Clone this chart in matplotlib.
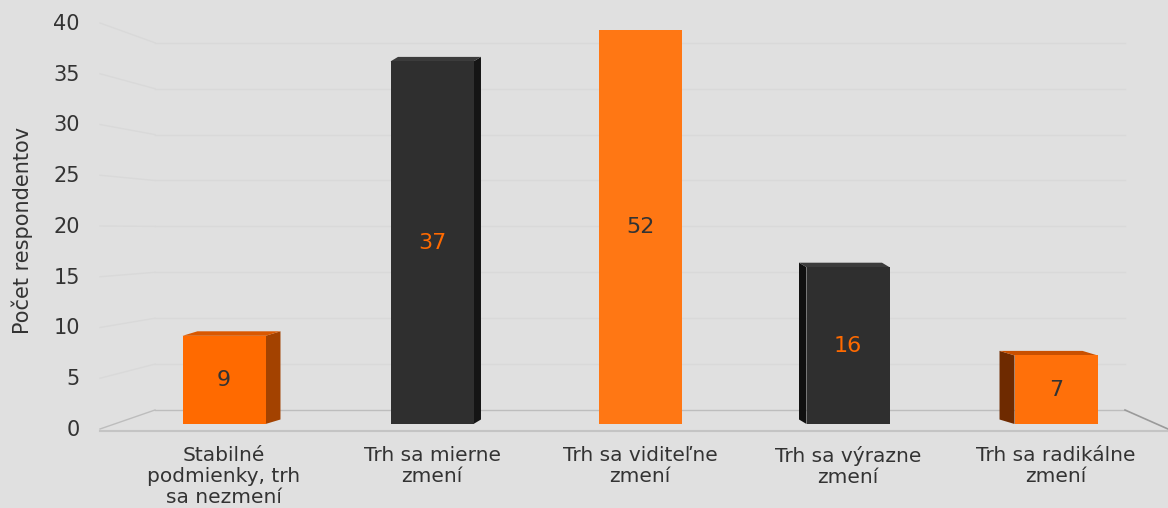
import matplotlib

matplotlib.use("Agg")
import matplotlib.pyplot as plt
from matplotlib.patches import Polygon

# data
categories = [
    "Stabilné\npodmienky, trh\nsa nezmení",
    "Trh sa mierne\nzmení",
    "Trh sa viditeľne\nzmení",
    "Trh sa výrazne\nzmení",
    "Trh sa radikálne\nzmení",
]
values = [9, 37, 52, 16, 7]
yticks = [0, 5, 10, 15, 20, 25, 30, 35, 40]

# styles
front_colors = ["#FF6A00", "#2F2F2F", "#FF7714", "#2F2F2F", "#FF700A"]
side_colors = ["#A34200", "#151515", "#151515", "#101010", "#6E2A00"]
top_colors = ["#D95800", "#3C3C3C", "#FF8A30", "#3C3C3C", "#C95000"]
label_colors = ["#333333", "#FF6A00", "#333333", "#FF6A00", "#333333"]
bg = "#E0E0E0"
font = "DejaVu Sans"

W, H = 1168, 508
fig = plt.figure(figsize=(W / 100, H / 100), dpi=100, facecolor=bg)
ax = fig.add_axes([0, 0, 1, 1])
ax.set_facecolor(bg)

# pixel layout -> data coords
x0_px, step_px = 224, 208          # centre of first bar, bar spacing
base_px, unit_px = 424, 9.8        # bar baseline, pixels per respondent


def dx(px):
    return px / step_px


def dy(px):
    return px / unit_px


def X(px):
    return (px - x0_px) / step_px


def Y(px):
    return (base_px - px) / unit_px


ax.set_xlim(X(0), X(W))
ax.set_ylim(Y(H), Y(0))
ax.axis("off")

clip_top = 40.2
front_zero, front_unit = 430, 10.15   # tick label scale (front edge)
back_zero, back_unit = 410, 9.18      # back wall scale

# back wall + left wall gridlines
for v in yticks:
    yb = Y(back_zero - v * back_unit)
    yf = Y(front_zero - v * front_unit) + dy(1)
    col = "#BDBDBD" if v == 0 else "#D9D9D9"
    ax.plot([X(155), X(1125)], [yb, yb], color=col, lw=1, zorder=1)
    ax.plot([X(100), X(155)], [yf, yb], color=col, lw=1, zorder=1)
    ax.text(X(80), Y(front_zero - v * front_unit), str(v), ha="right",
            va="center", fontsize=15, color="#333333", family=font)

# floor
yb0 = Y(back_zero)
yf0 = Y(front_zero)
ax.plot([X(1125), X(W)], [yb0, Y(429)], color="#9A9A9A", lw=1.2, zorder=1)
ax.plot([X(100), X(W)], [yf0 - dy(1), yf0 - dy(1)], color="#C4C4C4", lw=1.5, zorder=1)

# bars
width = dx(83)
for i, (v, fc, sc, tc, lc) in enumerate(
        zip(values, front_colors, side_colors, top_colors, label_colors)):
    h = min(v, clip_top)
    cx_px = x0_px + i * step_px
    ddx = dx(-0.036 * (cx_px - 640))
    ddy = dy(4.5)
    left, right = i - width / 2, i + width / 2
    # side face
    edge = right if ddx > 0 else left
    ax.add_patch(Polygon([(edge, 0), (edge + ddx, ddy), (edge + ddx, h + ddy), (edge, h)],
                         closed=True, facecolor=sc, edgecolor="none", zorder=3))
    # top face
    if v <= clip_top:
        ax.add_patch(Polygon([(left, h), (right, h), (right + ddx, h + ddy), (left + ddx, h + ddy)],
                             closed=True, facecolor=tc, edgecolor="none", zorder=3))
    ax.bar(i, h, width=width, color=fc, zorder=4)
    ax.text(i, h / 2, str(v), ha="center", va="center", fontsize=16,
            color=lc, zorder=5, family=font)
    ax.text(i, Y(446), categories[i], ha="center", va="top", fontsize=14.5,
            color="#333333", linespacing=1.12, family=font)

ax.text(X(22), Y(230), "Počet respondentov", rotation=90, ha="center",
        va="center", fontsize=15, color="#333333", family=font)

fig.savefig("out.png", dpi=100, facecolor=bg)
